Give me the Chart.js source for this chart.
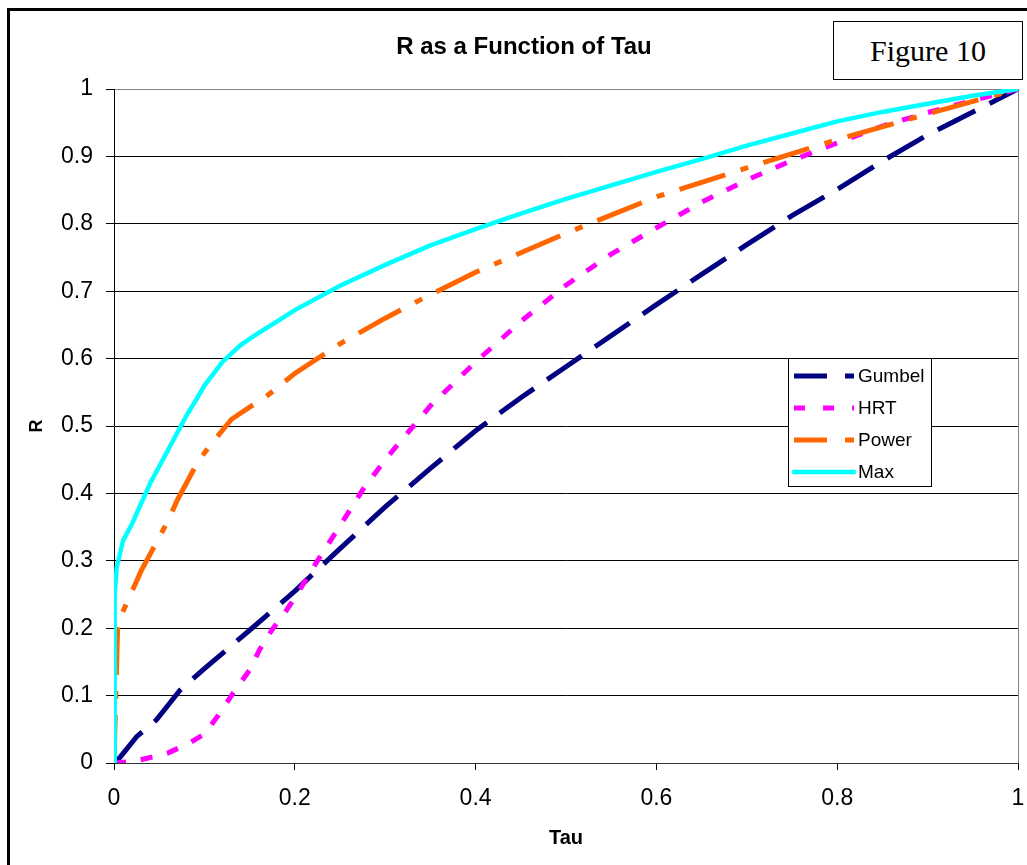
<!DOCTYPE html>
<html>
<head>
<meta charset="utf-8">
<script src="https://cdn.jsdelivr.net/npm/chart.js@4.4.0/dist/chart.umd.min.js"></script>
<style>
  html, body { margin: 0; padding: 0; background: #fff; overflow: hidden; }
  #frame { position: absolute; left: 7px; top: 8px; width: 1100px; height: 1000px;
           border-left: 3px solid #000; border-top: 3px solid #000; }
  #fig { position: absolute; left: 833px; top: 21px; width: 188px; height: 57px;
         border: 1px solid #000; background: #fff; font-family: "Liberation Serif", serif;
         font-size: 30px; line-height: 57px; text-align: center; color: #000; }
  #wrap { position: absolute; left: 0; top: 0; }
</style>
</head>
<body>
<div id="frame"></div>
<div id="wrap"><canvas id="rChart" width="1027" height="865"></canvas></div>
<div id="fig">Figure 10</div>
<script>
// values (tau, R)
const gumbelTau = [0, 0.007, 0.025, 0.047, 0.073, 0.1, 0.15, 0.2, 0.25, 0.3, 0.35, 0.4, 0.45, 0.5, 0.55, 0.6, 0.65, 0.7, 0.75, 0.8, 0.85, 0.9, 0.95, 1];
const gumbelR   = [0, 0.009, 0.039, 0.064, 0.108, 0.14, 0.197, 0.255, 0.318, 0.38, 0.437, 0.493, 0.542, 0.588, 0.634, 0.68, 0.725, 0.769, 0.812, 0.851, 0.893, 0.932, 0.966, 1];

const hrtTau = [0, 0.02, 0.043, 0.06, 0.084, 0.1, 0.115, 0.132, 0.15, 0.161, 0.175, 0.191, 0.2, 0.225, 0.25, 0.275, 0.3, 0.35, 0.4, 0.45, 0.5, 0.55, 0.6, 0.65, 0.7, 0.75, 0.8, 0.85, 0.9, 0.95, 1];
const hrtR   = [0, 0.002, 0.009, 0.015, 0.03, 0.043, 0.07, 0.104, 0.138, 0.168, 0.198, 0.227, 0.245, 0.3, 0.352, 0.405, 0.45, 0.53, 0.595, 0.655, 0.709, 0.755, 0.794, 0.832, 0.865, 0.894, 0.92, 0.945, 0.965, 0.983, 1];

const powerTau = [0, 0.002, 0.004, 0.01, 0.02, 0.03, 0.04, 0.05, 0.06, 0.07, 0.08, 0.09, 0.1, 0.114, 0.13, 0.15, 0.165, 0.2, 0.25, 0.3, 0.35, 0.4, 0.5, 0.6, 0.7, 0.8, 0.9, 1];
const powerR   = [0, 0.1, 0.2, 0.225, 0.255, 0.285, 0.31, 0.335, 0.36, 0.39, 0.415, 0.44, 0.46, 0.484, 0.51, 0.528, 0.54, 0.578, 0.622, 0.66, 0.695, 0.728, 0.786, 0.84, 0.883, 0.925, 0.963, 1];

const maxTau = [0, 0.0005, 0.001, 0.003, 0.01, 0.02, 0.03, 0.04, 0.05, 0.06, 0.07, 0.08, 0.09, 0.1, 0.12, 0.14, 0.16, 0.18, 0.2, 0.25, 0.3, 0.35, 0.4, 0.45, 0.5, 0.55, 0.6, 0.65, 0.7, 0.75, 0.8, 0.85, 0.9, 0.95, 1];
const maxR   = [0, 0.15, 0.25, 0.29, 0.33, 0.355, 0.385, 0.415, 0.44, 0.465, 0.49, 0.515, 0.537, 0.56, 0.595, 0.62, 0.638, 0.655, 0.672, 0.708, 0.739, 0.768, 0.792, 0.815, 0.837, 0.857, 0.877, 0.896, 0.916, 0.934, 0.952, 0.966, 0.978, 0.99, 1];

const xTicks = [0, 0.2, 0.4, 0.6, 0.8, 1];

const pts = (xs, ys) => xs.map((x, i) => ({ x: x, y: ys[i] }));
const fmt = v => String(Number(Number(v).toFixed(2)));

const series = [
  { label: 'Gumbel', xs: gumbelTau, ys: gumbelR, color: '#000080', dash: [42, 16], legendDash: [33, 18], width: 5, order: 3 },
  { label: 'HRT',    xs: hrtTau,    ys: hrtR,    color: '#FF00FF', dash: [12, 15], legendDash: [11, 18], width: 5, order: 2 },
  { label: 'Power',  xs: powerTau,  ys: powerR,  color: '#FF6600', dash: [48, 16, 8, 16], legendDash: [33, 18], width: 5, order: 1 },
  { label: 'Max',    xs: maxTau,    ys: maxR,    color: '#00FFFF', dash: [], legendDash: [], width: 4.5, order: 0 }
];

const sansFont = '"Liberation Sans", Arial, sans-serif';

// title and legend box drawn on top of the chart
const decor = {
  id: 'decor',
  afterDraw(chart) {
    const ctx = chart.ctx;
    ctx.save();
    ctx.fillStyle = '#000';
    ctx.font = 'bold 24px ' + sansFont;
    ctx.textAlign = 'center';
    ctx.textBaseline = 'middle';
    ctx.fillText('R as a Function of Tau', 524, 47);

    // legend
    ctx.fillStyle = '#fff';
    ctx.fillRect(788, 358, 144, 129);
    ctx.strokeStyle = '#000';
    ctx.lineWidth = 1;
    ctx.strokeRect(788.5, 358.5, 143, 128);
    ctx.font = '19px ' + sansFont;
    ctx.textAlign = 'left';
    series.forEach((s, i) => {
      const y = 376 + i * 32;
      ctx.beginPath();
      ctx.strokeStyle = s.color;
      ctx.lineWidth = s.width;
      ctx.lineCap = s.dash.length ? 'butt' : 'round';
      ctx.setLineDash(s.legendDash);
      ctx.moveTo(794, y);
      ctx.lineTo(854, y);
      ctx.stroke();
      ctx.setLineDash([]);
      ctx.fillStyle = '#000';
      ctx.fillText(s.label, 858, y + 1);
    });
    ctx.restore();
  }
};

new Chart(document.getElementById('rChart'), {
  type: 'line',
  data: {
    datasets: series.map(s => ({
      label: s.label,
      data: pts(s.xs, s.ys),
      borderColor: s.color,
      backgroundColor: s.color,
      borderWidth: s.width,
      borderDash: s.dash,
      borderCapStyle: 'butt',
      pointRadius: 0,
      tension: 0,
      fill: false,
      order: s.order
    }))
  },
  options: {
    responsive: false,
    animation: false,
    layout: { padding: { left: 12, right: 9, top: 89, bottom: 0 } },
    plugins: {
      legend: { display: false },
      tooltip: { enabled: false },
      title: { display: false }
    },
    scales: {
      x: {
        type: 'linear',
        min: 0,
        max: 1,
        afterBuildTicks: s => { s.ticks = xTicks.map(v => ({ value: v })); },
        afterFit: s => { s.height = 102; s.paddingLeft = 0; s.paddingRight = 0; },
        ticks: { color: '#000', font: { family: sansFont, size: 23 }, padding: 15, maxRotation: 0, callback: v => fmt(v) },
        grid: {
          color: c => (c.tick && c.tick.value === 1) ? '#808080' : 'rgba(0,0,0,0)',
          tickColor: '#000',
          tickLength: 7,
          lineWidth: 1
        },
        border: { color: '#333', width: 1 },
        title: { display: true, text: 'Tau', color: '#000', font: { family: sansFont, size: 20, weight: 'bold' }, padding: { top: 0, bottom: 15 } }
      },
      y: {
        min: 0,
        max: 1,
        afterFit: s => { s.width = 102; s.paddingTop = 0; s.paddingBottom = 0; },
        ticks: { stepSize: 0.1, color: '#000', font: { family: sansFont, size: 23 }, padding: 13, callback: v => fmt(v) },
        grid: {
          color: c => (c.tick && c.tick.value === 1) ? '#808080' : '#000',
          tickColor: '#000',
          tickLength: 8,
          lineWidth: 1
        },
        border: { color: '#000', width: 1 },
        title: { display: true, text: 'R', color: '#000', font: { family: sansFont, size: 18, weight: 'bold' }, padding: { top: 14, bottom: 0 } }
      }
    }
  },
  plugins: [decor]
});
</script>
</body>
</html>
